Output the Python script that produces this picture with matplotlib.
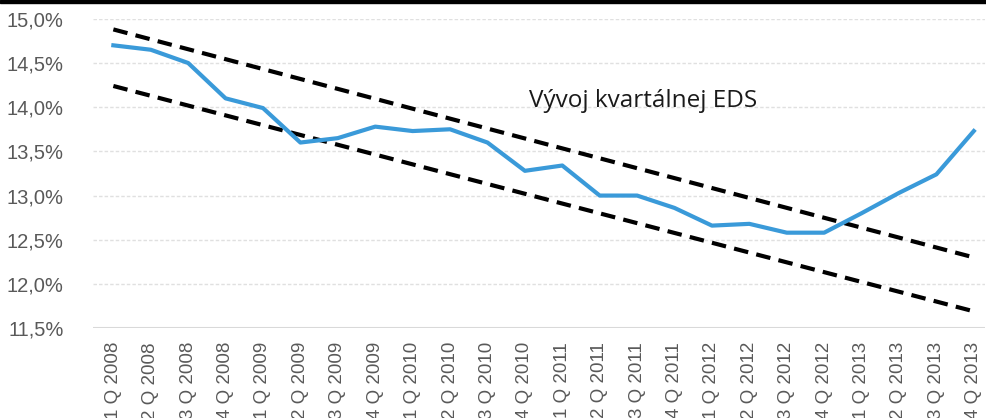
import matplotlib
matplotlib.use('Agg')
import matplotlib.pyplot as plt
from matplotlib.ticker import FuncFormatter

# quarterly labels
quarters = ['1 Q 2008', '2 Q 2008', '3 Q 2008', '4 Q 2008',
            '1 Q 2009', '2 Q 2009', '3 Q 2009', '4 Q 2009',
            '1 Q 2010', '2 Q 2010', '3 Q 2010', '4 Q 2010',
            '1 Q 2011', '2 Q 2011', '3 Q 2011', '4 Q 2011',
            '1 Q 2012', '2 Q 2012', '3 Q 2012', '4 Q 2012',
            '1 Q 2013', '2 Q 2013', '3 Q 2013', '4 Q 2013']

# EDS values (%)
eds = [14.70, 14.65, 14.50, 14.10, 13.99, 13.60, 13.65, 13.78,
       13.73, 13.75, 13.60, 13.28, 13.34, 13.00, 13.00, 12.86,
       12.66, 12.68, 12.58, 12.58, 12.80, 13.03, 13.24, 13.73]

# trend channel, endpoints (first and last quarter)
upper_ends = [14.88, 12.30]
lower_ends = [14.24, 11.69]

yticks = [11.5, 12.0, 12.5, 13.0, 13.5, 14.0, 14.5, 15.0]

fig = plt.figure(figsize=(9.87, 4.18), dpi=100)
ax = fig.add_axes([0.094, 0.215, 0.904, 0.74])

x = list(range(len(quarters)))
ends_x = [x[0], x[-1]]

for g in yticks[1:]:
    ax.axhline(g, color='#e0e0e0', lw=1.0, ls=(0, (2.5, 1.5)), zorder=0)
ax.axhline(yticks[0], color='#d9d9d9', lw=1.5, zorder=0)

ax.plot(ends_x, upper_ends, color='black', lw=3, ls=(0, (3.5, 2)), zorder=2)
ax.plot(ends_x, lower_ends, color='black', lw=3, ls=(0, (3.5, 2)), zorder=2)
ax.plot(x, eds, color='#3a9ad9', lw=3, zorder=3, solid_joinstyle='round')

ax.text(14.15, 14.07, 'Vývoj kvartálnej EDS', fontsize=17.5, family='Open Sans',
        color='#1a1a1a', va='center', ha='center')

ax.set_xlim(-0.55, 23.3)
ax.set_ylim(11.5, 15.0)
ax.set_yticks(yticks)
ax.yaxis.set_major_formatter(FuncFormatter(lambda v, p: f'{v:.1f}%'.replace('.', ',')))
ax.set_xticks(x)
ax.set_xticklabels(quarters, rotation=90, va='top')
ax.tick_params(axis='both', length=0, labelcolor='#595959')
ax.tick_params(axis='y', pad=21, labelsize=14.5)
ax.tick_params(axis='x', pad=10, labelsize=13.5)
for lab in ax.get_xticklabels() + ax.get_yticklabels():
    lab.set_family('Liberation Sans')
for s in ax.spines.values():
    s.set_visible(False)

# black band along the top edge
fig.patches.append(plt.Rectangle((0, 0.994), 1, 0.006, transform=fig.transFigure,
                                 color='black', zorder=10))

fig.savefig('out.png', dpi=100)
